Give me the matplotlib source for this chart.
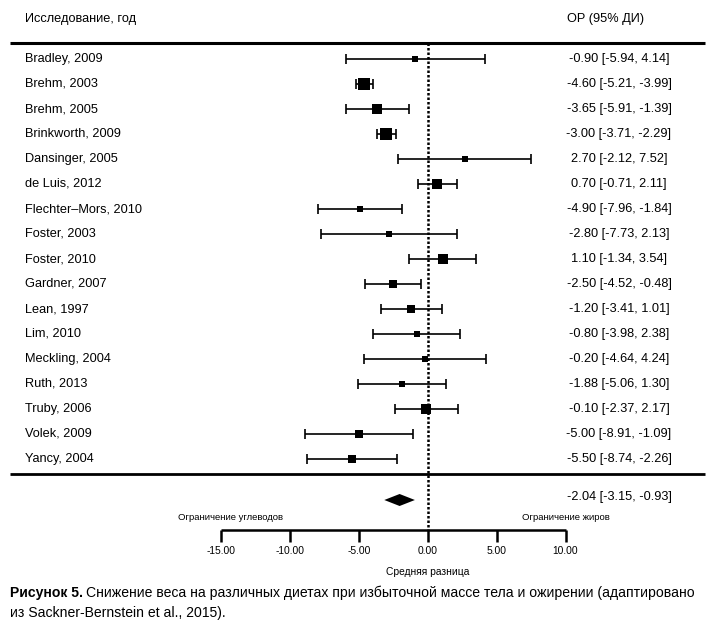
import matplotlib
matplotlib.use("Agg")
from matplotlib import pyplot as plt

plt.rcParams['font.family'] = ['Liberation Sans Narrow', 'Liberation Sans', 'DejaVu Sans']

studies = ["Bradley, 2009", "Brehm, 2003", "Brehm, 2005", "Brinkworth, 2009",
           "Dansinger, 2005", "de Luis, 2012", "Flechter\u2013Mors, 2010", "Foster, 2003",
           "Foster, 2010", "Gardner, 2007", "Lean, 1997", "Lim, 2010",
           "Meckling, 2004", "Ruth, 2013", "Truby, 2006", "Volek, 2009", "Yancy, 2004"]
md = [-0.90, -4.60, -3.65, -3.00, 2.70, 0.70, -4.90, -2.80, 1.10, -2.50,
      -1.20, -0.80, -0.20, -1.88, -0.10, -5.00, -5.50]
lo = [-5.94, -5.21, -5.91, -3.71, -2.12, -0.71, -7.96, -7.73, -1.34, -4.52,
      -3.41, -3.98, -4.64, -5.06, -2.37, -8.91, -8.74]
hi = [4.14, -3.99, -1.39, -2.29, 7.52, 2.11, -1.84, 2.13, 3.54, -0.48,
      1.01, 2.38, 4.24, 1.30, 2.17, -1.09, -2.26]
# relative study weight (box size)
weights = [5, 10, 8, 10, 5, 8, 5, 5, 8, 7.5, 7.5, 6, 6, 6, 9, 7, 7]

pooled = -2.04
pooled_lo = -3.15
pooled_hi = -0.93

ticks = [-15, -10, -5, 0, 5, 10]

# pixel layout
W, H = 715, 629
zero_px = 427.7
px_per_unit = 13.78

fig = plt.figure(figsize=(W / 100, H / 100), dpi=100)
ax = fig.add_axes([0, 0, 1, 1])
ax.set_xlim(-zero_px / px_per_unit, (W - zero_px) / px_per_unit)
ax.set_ylim(H, 0)
ax.axis("off")

def px(x):
    # pixel -> data x
    return (x - zero_px) / px_per_unit

fs = 9.2
ax.text(px(25), 19, "Исследование, год", fontsize=fs, va="center", ha="left")
ax.text(px(606), 19, "ОР (95% ДИ)", fontsize=fs, va="center", ha="center")

ax.hlines(43, px(10), px(705), color="black", lw=2.2)
ax.hlines(474, px(10), px(705), color="black", lw=2.0)

# zero line
ax.vlines(0, 43, 530, color="black", lw=1.8, linestyles=(0, (1, 0.8)))

row0, step = 59, 25
for i, name in enumerate(studies):
    y = row0 + step * i
    ax.text(px(25), y, name, fontsize=fs, va="center", ha="left")
    ax.errorbar(md[i], y, xerr=[[md[i] - lo[i]], [hi[i] - md[i]]], fmt="none",
                ecolor="black", elinewidth=1.2, capsize=3.4, capthick=1.2)
    ax.plot(md[i], y, marker="s", color="black", ms=weights[i] * 0.82, mew=0)
    ax.text(px(619), y, "%.2f [%.2f, %.2f]" % (md[i], lo[i], hi[i]),
            fontsize=fs, va="center", ha="center")

# pooled diamond
ys = 500
ax.fill([pooled_lo, pooled, pooled_hi, pooled], [ys, ys - 6, ys, ys + 6],
        color="black", lw=0)
ax.text(px(619), ys - 3, "%.2f [%.2f, %.2f]" % (pooled, pooled_lo, pooled_hi),
        fontsize=fs, va="center", ha="center")

ax.text(px(230), 518, "Ограничение углеводов", fontsize=6.8, va="center", ha="center")
ax.text(px(566), 518, "Ограничение жиров", fontsize=6.8, va="center", ha="center")

# x axis
axis_y = 530
ax.hlines(axis_y, ticks[0], ticks[-1], color="black", lw=1.8)
ax.vlines(ticks, axis_y, axis_y + 12, color="black", lw=1.8)
for t in ticks:
    ax.text(t, 551, "%.2f" % t, fontsize=7.4, va="center", ha="center")
ax.text(0, 572, "Средняя разница", fontsize=7.4, va="center", ha="center")

# caption
cap_fs = 10.1
bold = ax.text(px(10), 593, "Рисунок 5.", fontsize=cap_fs, fontweight="bold",
               va="center", ha="left")
fig.canvas.draw()
bb = bold.get_window_extent()
x_next = ax.transData.inverted().transform((bb.x1 + 3, 0))[0]
ax.text(x_next, 593, "Снижение веса на различных диетах при избыточной массе тела и ожирении (адаптировано",
        fontsize=cap_fs, va="center", ha="left")
ax.text(px(10), 613, "из Sackner-Bernstein et al., 2015).", fontsize=cap_fs,
        va="center", ha="left")

fig.savefig("out.png", dpi=100)
